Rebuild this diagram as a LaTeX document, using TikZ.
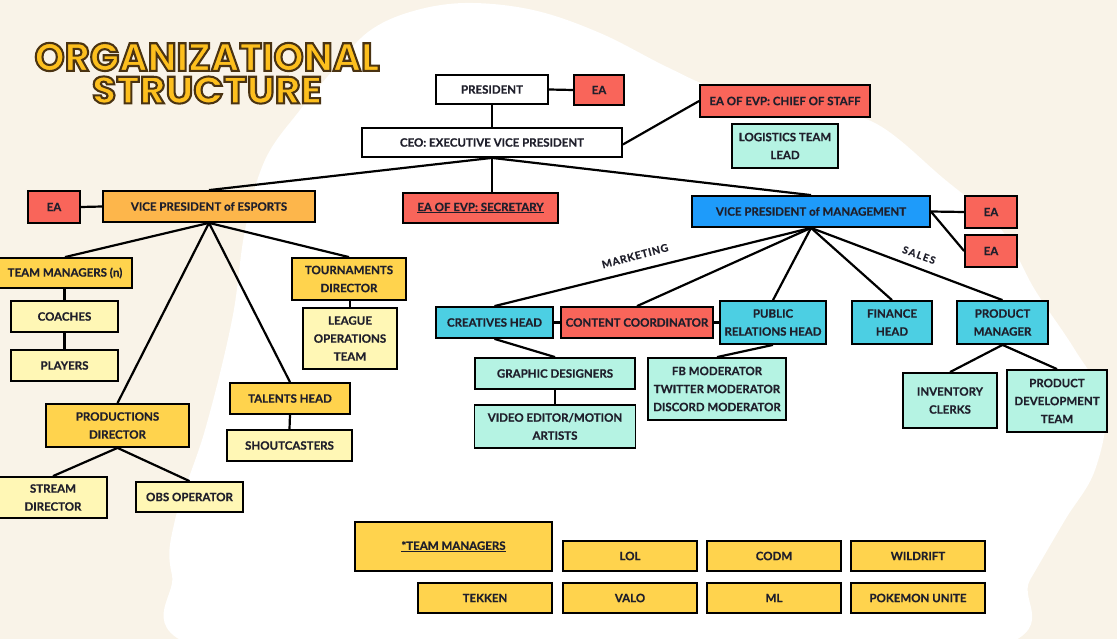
\documentclass[tikz,border=0pt]{standalone}
\usepackage{fontspec}
\setmainfont{Lato}[BoldFeatures={FakeBold=0.5}]
\newfontfamily\titlefont{Poppins}
\definecolor{cream}{HTML}{F9F3E8}
\definecolor{redb}{HTML}{F9655A}
\definecolor{orangeb}{HTML}{FDB64B}
\definecolor{goldb}{HTML}{FFD34D}
\definecolor{paleb}{HTML}{FFF7B5}
\definecolor{blueb}{HTML}{1E9BFA}
\definecolor{cyanb}{HTML}{4CCFE3}
\definecolor{mintb}{HTML}{B5F3E3}
\definecolor{ink}{HTML}{1F1F2B}
\definecolor{titlefill}{HTML}{FDBF1E}
\newcommand\titleoutline[1]{\textcolor{titlefill}{\special{pdf:literal direct 2 Tr 2.2 w 0.29 0.2 0.07 RG}#1\special{pdf:literal direct 0 Tr}}}
\tikzset{
  bx/.style={draw=black, line width=1.8pt, inner sep=1pt, align=center, text=ink,
    font=\bfseries\fontsize{11.5}{18}\selectfont},
  conn/.style={line width=2.2pt, draw=black},
  lbl/.style={inner sep=0pt, text=ink, font=\bfseries\fontsize{10.5}{12}\selectfont},
}
\begin{document}
\begin{tikzpicture}[x=1pt,y=-1pt]
\useasboundingbox (0,0) rectangle (1117,639);
\begin{scope}
\clip (0,0) rectangle (1117,639);
\fill[cream] (0,0) rectangle (1117,639);
\fill[white] plot[smooth cycle, tension=0.6] coordinates {
 (465,3) (533,10) (600,33) (667,67) (720,90) (800,108) (873,122) (943,178)
 (1000,228) (1035,290) (1075,350) (1105,405) (1095,470) (1065,520) (1030,580)
 (990,650) (600,700) (205,650) (172,575) (175,520) (205,430) (232,320)
 (245,230) (265,160) (300,110) (335,68) (368,32) (410,12)};
\end{scope}

% top level
\node[bx, fill=white, minimum width=112pt, minimum height=29pt] (pres) at (492,89.5) {PRESIDENT};
\node[bx, fill=redb, minimum width=50pt, minimum height=30pt] (eatop) at (599,90) {EA};
\node[bx, fill=white, minimum width=260pt, minimum height=29pt] (ceo) at (492,142.5) {CEO: EXECUTIVE VICE PRESIDENT};
\node[bx, fill=redb, minimum width=170pt, minimum height=32pt] (cos) at (785,101) {EA OF EVP: CHIEF OF STAFF};
\node[bx, fill=mintb, minimum width=106pt, minimum height=44pt] (logi) at (785,146) {LOGISTICS TEAM\\LEAD};

% second level
\node[bx, fill=redb, minimum width=52pt, minimum height=32pt] (eal) at (54,207) {EA};
\node[bx, fill=orangeb, minimum width=212pt, minimum height=31pt] (vpe) at (209,206.5) {VICE PRESIDENT of ESPORTS};
\node[bx, fill=redb, minimum width=155pt, minimum height=30pt] (sec) at (480.5,208) {\underline{EA OF EVP: SECRETARY}};
\node[bx, fill=blueb, minimum width=238pt, minimum height=31pt] (vpm) at (811,211.5) {VICE PRESIDENT of MANAGEMENT};
\node[bx, fill=redb, minimum width=52pt, minimum height=32pt] (eaa) at (991,212) {EA};
\node[bx, fill=redb, minimum width=52pt, minimum height=32pt] (eab) at (991,251) {EA};

% esports branch
\node[bx, fill=goldb, minimum width=134pt, minimum height=30pt] (tm) at (65,273) {TEAM MANAGERS (n)};
\node[bx, fill=paleb, minimum width=107pt, minimum height=31pt] (coach) at (64.5,316.5) {COACHES};
\node[bx, fill=paleb, minimum width=107pt, minimum height=31pt] (play) at (64.5,365.5) {PLAYERS};
\node[bx, fill=goldb, minimum width=114pt, minimum height=42pt] (tour) at (349,279) {TOURNAMENTS\\DIRECTOR};
\node[bx, fill=paleb, minimum width=94pt, minimum height=61pt] (league) at (350,338.5) {LEAGUE\\OPERATIONS\\TEAM};
\node[bx, fill=goldb, minimum width=120pt, minimum height=31pt] (tal) at (290,398.5) {TALENTS HEAD};
\node[bx, fill=paleb, minimum width=125pt, minimum height=31pt] (shout) at (289.5,445.5) {SHOUTCASTERS};
\node[bx, fill=goldb, minimum width=143pt, minimum height=43pt] (prod) at (117.5,425.5) {PRODUCTIONS\\DIRECTOR};
\node[bx, fill=paleb, minimum width=108pt, minimum height=41pt] (stream) at (53,497.5) {STREAM\\DIRECTOR};
\node[bx, fill=paleb, minimum width=107pt, minimum height=30pt] (obs) at (189.5,497) {OBS OPERATOR};

% management branch
\node[bx, fill=cyanb, minimum width=117pt, minimum height=31pt] (cre) at (494.5,322.5) {CREATIVES HEAD};
\node[bx, fill=redb, minimum width=152pt, minimum height=31pt] (con) at (637,322.5) {CONTENT COORDINATOR};
\node[bx, fill=cyanb, minimum width=106pt, minimum height=43pt] (pr) at (773,322.5) {PUBLIC\\RELATIONS HEAD};
\node[bx, fill=cyanb, minimum width=80pt, minimum height=43pt] (fin) at (892,322.5) {FINANCE\\HEAD};
\node[bx, fill=cyanb, minimum width=91pt, minimum height=43pt] (pm) at (1002.5,322.5) {PRODUCT\\MANAGER};
\node[bx, fill=mintb, minimum width=160pt, minimum height=31pt] (gd) at (555,373.5) {GRAPHIC DESIGNERS};
\node[bx, fill=mintb, minimum width=161pt, minimum height=43pt] (ved) at (555,426.5) {VIDEO EDITOR/MOTION\\ARTISTS};
\node[bx, fill=mintb, minimum width=138pt, minimum height=62pt] (mod) at (717,389) {FB MODERATOR\\TWITTER MODERATOR\\DISCORD MODERATOR};
\node[bx, fill=mintb, minimum width=94pt, minimum height=55pt] (inv) at (950,400.5) {INVENTORY\\CLERKS};
\node[bx, fill=mintb, minimum width=100pt, minimum height=62pt] (pdt) at (1057,401) {PRODUCT\\DEVELOPMENT\\TEAM};

% team managers legend
\node[bx, fill=goldb, minimum width=197pt, minimum height=49pt] (tmk) at (453.5,546.5) {\underline{*TEAM MANAGERS}};
\node[bx, fill=goldb, minimum width=134pt, minimum height=30pt] (lol) at (630,556) {LOL};
\node[bx, fill=goldb, minimum width=134pt, minimum height=30pt] (codm) at (774,556) {CODM};
\node[bx, fill=goldb, minimum width=134pt, minimum height=30pt] (wild) at (918,556) {WILDRIFT};
\node[bx, fill=goldb, minimum width=134pt, minimum height=30pt] (tek) at (485,598) {TEKKEN};
\node[bx, fill=goldb, minimum width=134pt, minimum height=30pt] (valo) at (630,598) {VALO};
\node[bx, fill=goldb, minimum width=134pt, minimum height=30pt] (ml) at (774,598) {ML};
\node[bx, fill=goldb, minimum width=134pt, minimum height=30pt] (poke) at (918,598) {POKEMON UNITE};

% connectors
\draw[conn] (pres.south) -- (ceo.north);
\draw[conn] (pres.east) -- (eatop.west);
\draw[conn] ([yshift=-2pt]ceo.east) -- (cos.west);
\draw[conn] (ceo.south) -- (vpe.north);
\draw[conn] (ceo.south) -- (ceo.south |- sec.north);
\draw[conn] (ceo.south) -- (vpm.north);
\draw[conn] (eal.east) -- (vpe.west);
\draw[conn] (vpe.south) -- (tm.north);
\draw[conn] (vpe.south) -- (prod.north);
\draw[conn] (vpe.south) -- (tal.north);
\draw[conn] (vpe.south) -- (tour.north);
\draw[conn] (coach.north |- tm.south) -- (coach.north);
\draw[conn] (coach.south) -- (play.north);
\draw[conn] (league.north |- tour.south) -- (league.north);
\draw[conn] (tal.south) -- (shout.north);
\draw[conn] (prod.south) -- (stream.north);
\draw[conn] (prod.south) -- (obs.north);
\draw[conn] (vpm.south) -- (cre.north);
\draw[conn] (vpm.south) -- (con.north);
\draw[conn] (vpm.south) -- (pr.north);
\draw[conn] (vpm.south) -- (fin.north);
\draw[conn] (vpm.south) -- (pm.north);
\draw[conn] (vpm.east) -- (eaa.west);
\draw[conn] (vpm.east) -- (eab.west);
\draw[conn] (cre.east) -- (con.west);
\draw[conn] (con.east) -- (pr.west);
\draw[conn] (cre.south) -- (gd.north);
\draw[conn] (gd.south) -- (ved.north);
\draw[conn] (pr.south) -- (mod.north);
\draw[conn] (pm.south) -- (inv.north);
\draw[conn] (pm.south) -- (pdt.north);

\node[lbl, rotate=15] (mkt) at (635,256) {\addfontfeature{LetterSpace=7}MARKETING};
\node[lbl, rotate=-20, font=\bfseries\fontsize{10}{11}\selectfont] (sales) at (919,255) {\addfontfeature{LetterSpace=14}SALES};

% title
\node[inner sep=0pt] (title1) at (207,57) {\resizebox{345pt}{28pt}{\titlefont\fontsize{41}{41}\selectfont\bfseries\titleoutline{ORGANIZATIONAL}}};
\node[inner sep=0pt] (title2) at (207,90) {\resizebox{230pt}{27pt}{\titlefont\fontsize{41}{41}\selectfont\bfseries\titleoutline{STRUCTURE}}};
\end{tikzpicture}
\end{document}
